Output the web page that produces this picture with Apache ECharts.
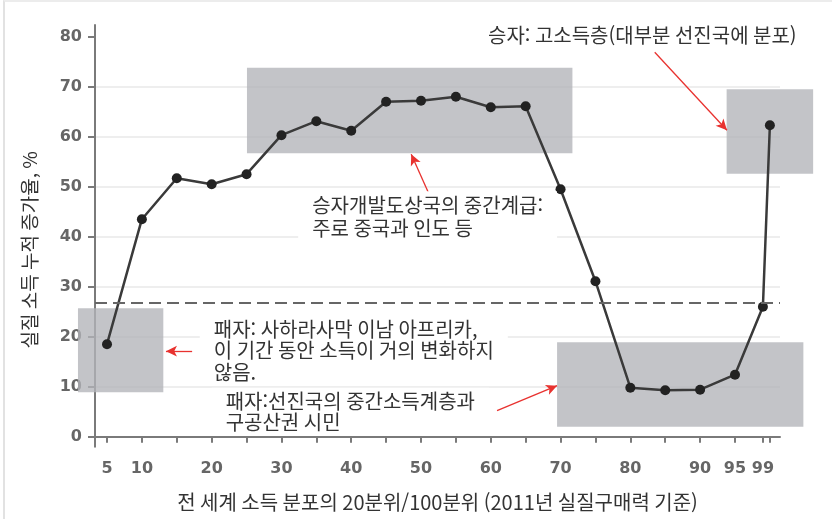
<!DOCTYPE html>
<html lang="ko">
<head>
<meta charset="utf-8">
<title>코끼리 곡선</title>
<script src="https://cdn.jsdelivr.net/npm/echarts@6/dist/echarts.min.js"></script>
<style>
	html, body { margin: 0; padding: 0; background: #fff; }
	#frame { position: absolute; left: 3px; top: 0; width: 829px; height: 519px; border-left: 2px solid #e2e2e2; border-top: 2px solid #ececec; box-sizing: border-box; }
	#main { position: absolute; left: 0; top: 0; width: 832px; height: 519px; }
</style>
</head>
<body>
<div id="frame"></div>
<div id="main"></div>
<script type="text/javascript">
// 전 세계 소득 분포의 분위 (x) 와 실질 소득 누적 증가율 (y)
var percentiles = [5, 10, 15, 20, 25, 30, 35, 40, 45, 50, 55, 60, 65, 70, 75, 80, 85, 90, 95, 99, 100];
var growth = [18.5, 43.5, 51.7, 50.5, 52.5, 60.3, 63.1, 61.2, 67.0, 67.2, 68.0, 65.9, 66.1, 49.5, 31.1, 9.8, 9.3, 9.4, 12.4, 26.0, 62.3];
var xTickLabels = [5, 10, 20, 30, 40, 50, 60, 70, 80, 90, 95, 99];
var xTicks = [5, 10, 15, 20, 25, 30, 35, 40, 45, 50, 55, 60, 65, 70, 75, 80, 85, 90, 95, 99, 100];
var yTicks = [0, 10, 20, 30, 40, 50, 60, 70, 80];
var globalMean = 26.8;

var cjk = '"Noto Sans CJK KR", "Noto Sans", sans-serif';
var red = '#e8322f';
var grid = '#e8e8e8';

var myChart = echarts.init(document.getElementById('main'), null, { renderer: 'canvas' });

// 회색 강조 영역 [x0, y0, x1, y1]
var boxes = [
	[0.84, 25.7, 13.07, 8.9],
	[25.06, 73.8, 71.7, 56.7],
	[93.8, 69.5, 106.2, 52.6],
	[69.5, 18.9, 104.8, 2.0]
];
// 빨간 화살표 [시작, 끝]
var arrows = [
	[[83.5, 76.9], [93.85, 61.3]],
	[[51.1, 48.7], [48.6, 56.5]],
	[[17.2, 17.1], [13.45, 17.1]],
	[[60.9, 5.2], [69.5, 10.2]]
];
var notes = [
	{ coord: [57.6, 80.3], text: '승자: 고소득층(대부분 선진국에 분포)', lh: 22 },
	{ coord: [32.4, 44.0], text: '승자개발도상국의 중간계급:\n주로 중국과 인도 등', lh: 22.5 },
	{ coord: [18.3, 17.2], text: '패자: 사하라사막 이남 아프리카,\n이 기간 동안 소득이 거의 변화하지\n않음.', lh: 21.5 },
	{ coord: [20.0, 5.0], text: '패자:선진국의 중간소득계층과\n구공산권 시민', lh: 21 }
];

var lineData = percentiles.map(function (p, i) { return [p, growth[i]]; });

var option = {
	animation: false,
	backgroundColor: 'transparent',
	grid: { left: 95, right: 52, top: 25, bottom: 72.3 },
	xAxis: {
		type: 'value',
		min: 3.28,
		max: 101.45,
		name: '전 세계 소득 분포의 20분위/100분위 (2011년 실질구매력 기준)',
		nameLocation: 'middle',
		nameGap: 46,
		nameTextStyle: { color: '#333', fontFamily: cjk, fontSize: 20 },
		axisLine: { lineStyle: { color: '#7a7a7a', width: 2 } },
		axisTick: { show: true, length: 6, customValues: xTicks, lineStyle: { color: '#7a7a7a', width: 2 } },
		axisLabel: {
			customValues: xTickLabels,
			margin: 14,
			color: '#666',
			fontFamily: '"DejaVu Sans", sans-serif',
			fontWeight: 'bold',
			fontSize: 16
		},
		splitLine: { show: false }
	},
	yAxis: {
		type: 'value',
		min: -2,
		max: 82.34,
		name: '실질 소득 누적 증가율, %',
		nameLocation: 'middle',
		nameGap: 56,
		nameTextStyle: { color: '#333', fontFamily: cjk, fontSize: 19, padding: [0, 28, 0, 0] },
		axisLine: { show: true, lineStyle: { color: '#7a7a7a', width: 2 } },
		axisTick: { show: true, length: 7, customValues: yTicks, lineStyle: { color: '#7a7a7a', width: 2 } },
		axisLabel: {
			customValues: yTicks,
			margin: 13,
			color: '#666',
			fontFamily: '"DejaVu Sans", sans-serif',
			fontWeight: 'bold',
			fontSize: 16
		},
		// 0 과 80 에는 격자선 없음
		splitLine: { show: true, lineStyle: { color: ['transparent', grid, grid, grid, grid, grid, grid, grid, 'transparent'], width: 1.5 } }
	},
	series: [{
		// 회색 박스 (축 밖으로 나가도 잘리지 않게 custom 으로)
		type: 'custom',
		silent: true,
		clip: false,
		z: 1,
		encode: { x: [0, 2], y: [1, 3] },
		data: boxes,
		renderItem: function (params, api) {
			var a = api.coord([api.value(0), api.value(1)]);
			var b = api.coord([api.value(2), api.value(3)]);
			return {
				type: 'rect',
				shape: {
					x: Math.min(a[0], b[0]),
					y: Math.min(a[1], b[1]),
					width: Math.abs(b[0] - a[0]),
					height: Math.abs(b[1] - a[1])
				},
				style: { fill: 'rgba(178,179,184,0.78)' }
			};
		}
	}, {
		type: 'line',
		data: lineData,
		symbol: 'circle',
		symbolSize: 10,
		itemStyle: { color: '#222' },
		lineStyle: { color: '#3a3a3a', width: 2.5 },
		z: 3,
		markLine: {
			silent: true,
			symbol: ['none', 'arrow'],
			symbolSize: [8, 11],
			label: { show: false },
			lineStyle: { color: red, width: 1.3, type: 'solid' },
			data: [[
				{ yAxis: globalMean, x: 95, symbol: 'none', lineStyle: { color: '#666', width: 2, type: [12, 6] } },
				{ yAxis: globalMean, x: 780, symbol: 'none' }
			]].concat(arrows.map(function (a) {
				return [{ coord: a[0] }, { coord: a[1] }];
			}))
		},
		markPoint: {
			silent: true,
			symbol: 'rect',
			symbolSize: 0,
			data: notes.map(function (n) {
				return {
					coord: n.coord,
					label: {
						show: true,
						position: [0, 0],
						align: 'left',
						verticalAlign: 'middle',
						formatter: n.text,
						color: '#333',
						fontFamily: cjk,
						fontSize: 20,
						lineHeight: n.lh,
						backgroundColor: '#fff',
						padding: [3, 14]
					}
				};
			})
		}
	}]
};

if (option && typeof option === 'object') {
	myChart.setOption(option);
}
</script>
</body>
</html>
